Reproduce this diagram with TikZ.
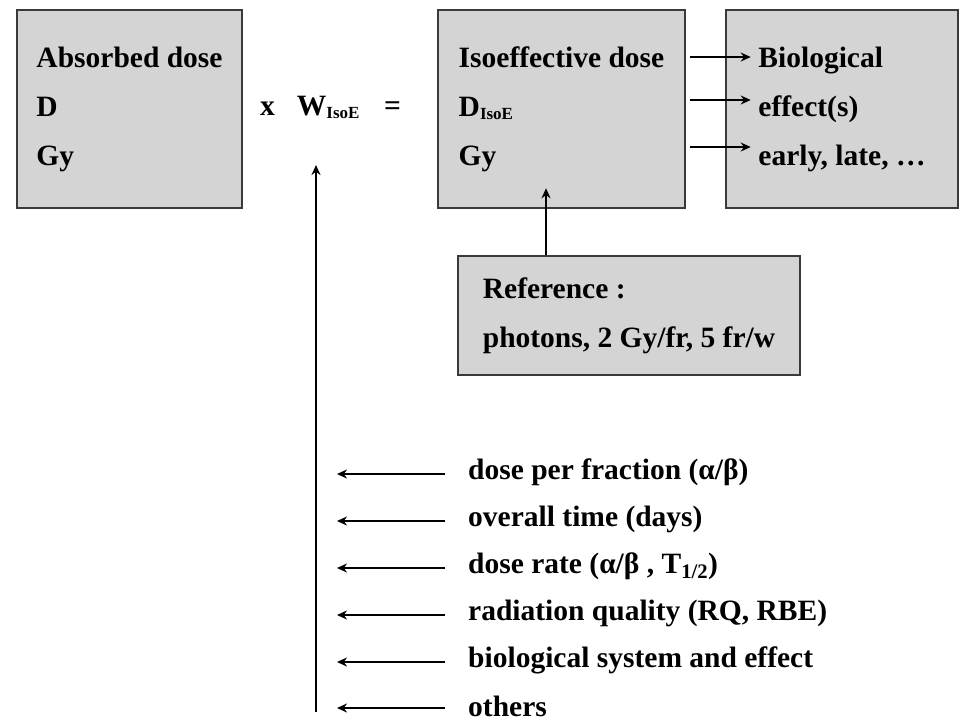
\documentclass[tikz,border=0pt]{standalone}
\usepackage{fontspec}
\setmainfont{Liberation Serif}
\usetikzlibrary{arrows.meta, positioning}
\definecolor{boxgray}{RGB}{212,212,212}
\definecolor{edgegray}{RGB}{58,58,58}

\begin{document}
\begin{tikzpicture}[
    x=1pt, y=-1pt,
    every node/.style={font=\fontsize{29.5}{49}\selectfont\bfseries},
    block/.style={rectangle, draw=edgegray, line width=2.6pt, fill=boxgray, align=left, inner sep=0pt},
    arrow/.style={-{Stealth[length=10pt, width=9pt]}, line width=1.8pt},
    factor/.style={anchor=west, inner sep=0pt}
]
\useasboundingbox (0,0) rectangle (963,721);
% top row
\node[block, minimum width=225pt, minimum height=198pt] (absorbed) at (129.5,109) {Absorbed dose\\D\\Gy};
\node[block, minimum width=247pt, minimum height=198pt] (iso) at (561.5,109) {Isoeffective dose\\D\textsubscript{\fontsize{17}{17}\selectfont IsoE}\\Gy};
\node[block, minimum width=232pt, minimum height=198pt] (bio) at (842,109) {Biological\\effect(s)\\early, late, \dots};
\node[anchor=base west, inner sep=0pt] (weight) at (260,115) {x\hspace{22pt}W\textsubscript{\fontsize{17}{17}\selectfont IsoE}\hspace{24pt}=};
% reference
\node[block, minimum width=342pt, minimum height=119pt] (reference) at (629,315.5) {Reference :\\photons, 2 Gy/fr, 5 fr/w};
\draw[arrow, shorten >=-21pt] ([xshift=-83pt]reference.north) -- ([xshift=-83pt]reference.north |- iso.south);
\foreach \dy in {52,9,-38}
  \draw[arrow, shorten <=4pt, shorten >=-26pt] ([yshift=\dy pt]iso.east) -- ([yshift=\dy pt]bio.west);
% factors
\coordinate (wbase) at (316,712);
\coordinate (wtip) at (316,165);
\draw[arrow] (wbase) -- (wtip);
\foreach \y/\txt [count=\i] in {474/{dose per fraction (α/β)}, 521/{overall time (days)},
    568/{dose rate (α/β , T\textsubscript{1/2})}, 615/{radiation quality (RQ, RBE)},
    662/{biological system and effect}, 708/{others}}{
  \node[factor] (f\i) at (468,\y-2) {\txt};
  \coordinate (t\i) at (337,\y);
  \draw[arrow, shorten <=23pt] (f\i.west |- t\i) -- (t\i);
}
\end{tikzpicture}
\end{document}
